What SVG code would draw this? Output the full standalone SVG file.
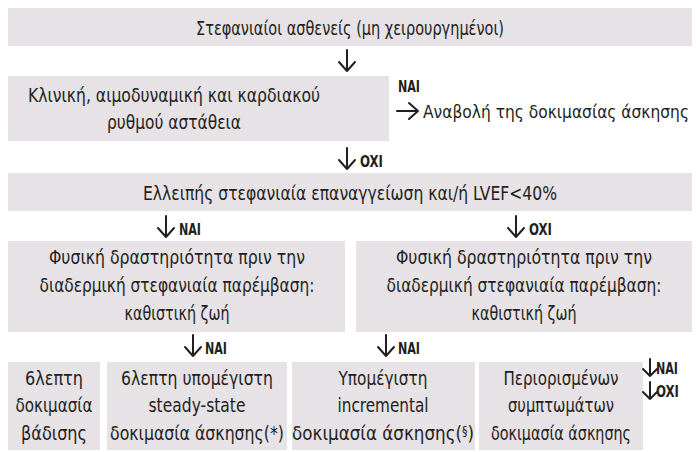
<svg xmlns="http://www.w3.org/2000/svg" width="696" height="452" viewBox="0 0 696 452">
<style>
.box{fill:#e6e2e6;}
.t{font-family:"DejaVu Sans Condensed","Liberation Sans Narrow","Liberation Sans",sans-serif;font-stretch:condensed;font-size:19px;fill:#231f20;text-anchor:middle;}
.l{font-family:"DejaVu Sans Condensed","Liberation Sans Narrow","Liberation Sans",sans-serif;font-stretch:condensed;font-size:15px;font-weight:bold;fill:#231f20;}
.a{fill:none;stroke:#231f20;stroke-width:2;stroke-linecap:round;stroke-linejoin:round;}
</style>
<rect width="696" height="452" fill="#ffffff"/>
<g id="n1"><rect class="box" x="8" y="8" width="684" height="38"/><text class="t" x="350" y="35" textLength="308" lengthAdjust="spacingAndGlyphs">Στεφανιαίοι ασθενείς (μη χειρουργημένοι)</text></g>
<g id="n2"><rect class="box" x="8" y="76" width="381" height="65"/><text class="t" x="174" y="102" textLength="292" lengthAdjust="spacingAndGlyphs">Κλινική, αιμοδυναμική και καρδιακού</text><text class="t" x="174" y="129" textLength="134" lengthAdjust="spacingAndGlyphs">ρυθμού αστάθεια</text></g>
<g id="n2b"><text class="t" x="423" y="118" style="text-anchor:start;font-size:17.5px" textLength="266" lengthAdjust="spacingAndGlyphs">Αναβολή της δοκιμασίας άσκησης</text></g>
<g id="n3"><rect class="box" x="8" y="173" width="684" height="38"/><text class="t" x="350" y="200" textLength="414" lengthAdjust="spacingAndGlyphs">Ελλειπής στεφανιαία επαναγγείωση και/ή LVEF&lt;40%</text></g>
<g id="n4"><rect class="box" x="8" y="241" width="337" height="91"/><text class="t" x="177" y="264" textLength="256" lengthAdjust="spacingAndGlyphs">Φυσική δραστηριότητα πριν την</text><text class="t" x="177" y="292" textLength="275" lengthAdjust="spacingAndGlyphs">διαδερμική στεφανιαία παρέμβαση:</text><text class="t" x="177" y="320" textLength="105" lengthAdjust="spacingAndGlyphs">καθιστική ζωή</text></g>
<g id="n5"><rect class="box" x="356" y="241" width="336" height="91"/><text class="t" x="524" y="264" textLength="256" lengthAdjust="spacingAndGlyphs">Φυσική δραστηριότητα πριν την</text><text class="t" x="524" y="292" textLength="275" lengthAdjust="spacingAndGlyphs">διαδερμική στεφανιαία παρέμβαση:</text><text class="t" x="524" y="320" textLength="105" lengthAdjust="spacingAndGlyphs">καθιστική ζωή</text></g>
<g id="n6"><rect class="box" x="8" y="362" width="92" height="88"/><text class="t" x="54" y="385" textLength="58" lengthAdjust="spacingAndGlyphs">6λεπτη</text><text class="t" x="54" y="412" textLength="77" lengthAdjust="spacingAndGlyphs">δοκιμασία</text><text class="t" x="54" y="440" textLength="66" lengthAdjust="spacingAndGlyphs">βάδισης</text></g>
<g id="n7"><rect class="box" x="107" y="362" width="180" height="88"/><text class="t" x="197" y="385" textLength="152" lengthAdjust="spacingAndGlyphs">6λεπτη υπομέγιστη</text><text class="t" x="197" y="412" textLength="97" lengthAdjust="spacingAndGlyphs">steady-state</text><text class="t" x="197" y="440" textLength="174" lengthAdjust="spacingAndGlyphs">δοκιμασία άσκησης(*)</text></g>
<g id="n8"><rect class="box" x="292" y="362" width="183" height="88"/><text class="t" x="383" y="385" textLength="89" lengthAdjust="spacingAndGlyphs">Υπομέγιστη</text><text class="t" x="383" y="412" textLength="91" lengthAdjust="spacingAndGlyphs">incremental</text><text class="t" x="383" y="440" style="font-size:18.6px">δοκιμασία άσκησης(<tspan font-size="12" baseline-shift="5">§</tspan>)</text></g>
<g id="n9"><rect class="box" x="479" y="362" width="164" height="88"/><text class="t" x="561" y="385" textLength="115" lengthAdjust="spacingAndGlyphs">Περιορισμένων</text><text class="t" x="561" y="412" textLength="106" lengthAdjust="spacingAndGlyphs">συμπτωμάτων</text><text class="t" x="561" y="440" textLength="140" lengthAdjust="spacingAndGlyphs">δοκιμασία άσκησης</text></g>
<g id="connectors">
<path class="a" d="M347 50V71M339 62L347 71L355 62"/>
<path class="a" d="M397 111H418M409 103L418 111L409 119"/>
<text class="l" x="398" y="92" textLength="22" lengthAdjust="spacingAndGlyphs">NAI</text>
<path class="a" d="M347 148V169M339 160L347 169L355 160"/>
<text class="l" x="360" y="167" textLength="23" lengthAdjust="spacingAndGlyphs">OXI</text>
<path class="a" d="M166 216V237M158 228L166 237L174 228"/>
<text class="l" x="179" y="235" textLength="22" lengthAdjust="spacingAndGlyphs">NAI</text>
<path class="a" d="M516 216V237M508 228L516 237L524 228"/>
<text class="l" x="529" y="235" textLength="23" lengthAdjust="spacingAndGlyphs">OXI</text>
<path class="a" d="M193 335V356M185 347L193 356L201 347"/>
<text class="l" x="205" y="354" textLength="22" lengthAdjust="spacingAndGlyphs">NAI</text>
<path class="a" d="M386 335V356M378 347L386 356L394 347"/>
<text class="l" x="398" y="354" textLength="22" lengthAdjust="spacingAndGlyphs">NAI</text>
<path class="a" d="M650 359V376M643 369L650 376L657 369"/>
<text class="l" x="656" y="374" textLength="22" lengthAdjust="spacingAndGlyphs">NAI</text>
<path class="a" d="M650 382V399M643 392L650 399L657 392"/>
<text class="l" x="656" y="397" textLength="23" lengthAdjust="spacingAndGlyphs">OXI</text>
</g>
</svg>
